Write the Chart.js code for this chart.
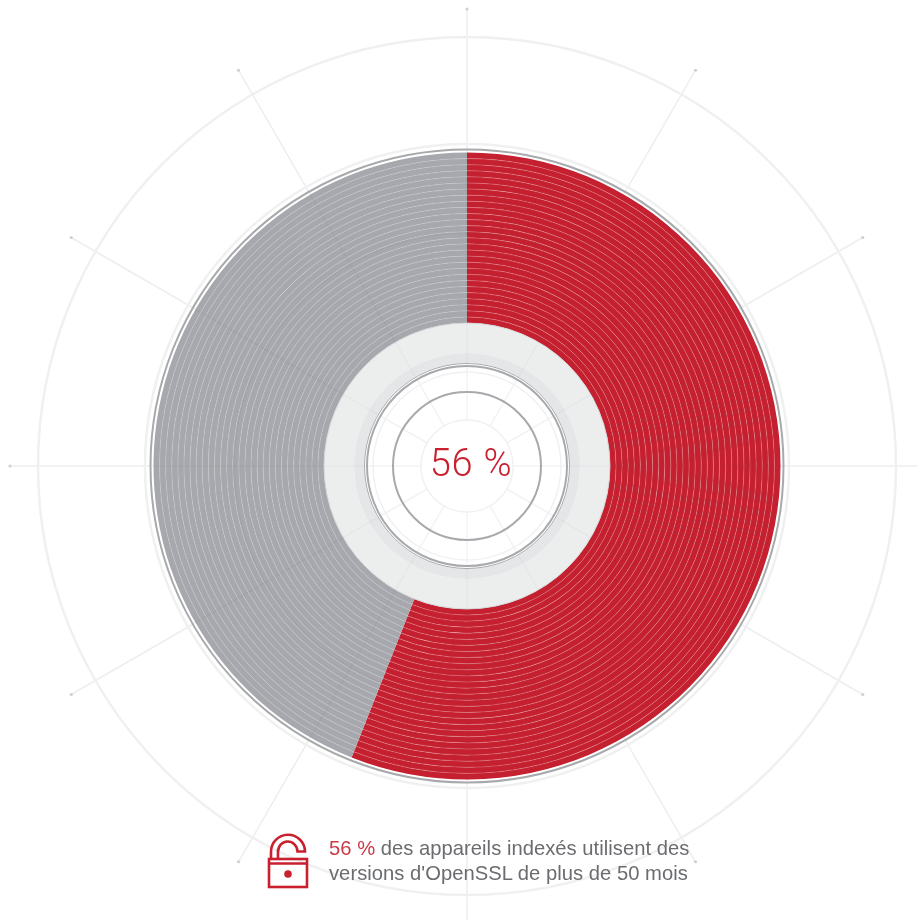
<!DOCTYPE html>
<html lang="fr">
<head>
<meta charset="utf-8">
<title>Versions d'OpenSSL</title>
<script src="https://cdn.jsdelivr.net/npm/chart.js@4/dist/chart.umd.min.js"></script>
<style>
    html, body { margin: 0; padding: 0; background: #fff; }
    #wrap { position: relative; width: 917px; height: 920px; overflow: hidden; }
    #ringChart { position: absolute; left: 0; top: 0; }
    #centerValue {
        position: absolute; left: 367px; width: 208px; top: 441px; text-align: center;
        font: 300 38px/44px Roboto, sans-serif; color: #c8202f; letter-spacing: 0.8px;
    }
    #caption {
        position: absolute; left: 329px; top: 836px; white-space: nowrap;
        font: 20.2px/25px "Liberation Sans", sans-serif; color: #6b6c6f; letter-spacing: 0.03px;
    }
    #caption b { font-weight: normal; color: #cc3a47; }
    #lock { position: absolute; left: 262px; top: 832px; }
</style>
</head>
<body>
<div id="wrap">
    <canvas id="ringChart" width="917" height="920"></canvas>
    <div id="centerValue">56 %</div>
    <div id="caption"><b>56 %</b> des appareils indexés utilisent des<br>versions d'OpenSSL de plus de 50 mois</div>
    <svg id="lock" width="52" height="60" viewBox="0 0 52 60" fill="none" stroke="#c8202f" stroke-width="2.6">
        <rect x="7" y="27" width="38" height="28"/>
        <line x1="7" y1="31.5" x2="45" y2="31.5"/>
        <path d="M9 27 V20 A17 17 0 0 1 43 19.5 L35.5 19.5 A9.5 10 0 0 0 16 20 V27"/>
        <circle cx="26" cy="42" r="3.8" fill="#c8202f" stroke="none"/>
    </svg>
</div>

<script>
const labels = ['Plus de 50 mois', 'Moins de 50 mois'];
const shares = [56, 44];
const sliceColors = ['#c5202f', '#a6a8ad'];
const lineColors = ['rgba(235,170,175,0.34)', 'rgba(205,207,210,0.38)'];

const ringCount = 28;
const gridRadii = [46, 94, 140, 233, 322, 429];
const spokeAngles = [0, 30, 60, 90, 120, 150, 180, 210, 240, 270, 300, 330];
const spokeLength = 457;

// every ring of the doughnut is its own dataset, so the separators follow its arcs
const datasets = [];
for (let i = 0; i < ringCount; i++) {
    datasets.push({ data: shares, backgroundColor: sliceColors, borderWidth: 0 });
}

function circle(ctx, x, y, r, color, width) {
    ctx.beginPath();
    ctx.arc(x, y, r, 0, Math.PI * 2);
    ctx.strokeStyle = color;
    ctx.lineWidth = width;
    ctx.stroke();
}

function drawSpokes(ctx, x, y, from, to, color) {
    spokeAngles.forEach(deg => {
        const a = deg * Math.PI / 180;
        ctx.beginPath();
        ctx.moveTo(x + Math.sin(a) * from, y - Math.cos(a) * from);
        ctx.lineTo(x + Math.sin(a) * to, y - Math.cos(a) * to);
        ctx.strokeStyle = color;
        ctx.lineWidth = 1.5;
        ctx.stroke();
    });
}

const backdrop = {
    id: 'backdrop',
    beforeDatasetsDraw(chart) {
        const ctx = chart.ctx;
        const arc = chart.getDatasetMeta(0).data[0];
        const { x, y } = arc.getProps(['x', 'y'], true);
        ctx.save();
        drawSpokes(ctx, x, y, 46, 100, '#f3f3f3');
        drawSpokes(ctx, x, y, 300, spokeLength, '#eeeeef');
        gridRadii.forEach(r => circle(ctx, x, y, r, r > 300 ? '#f0f0f1' : '#f1f1f1', r > 300 ? 2.5 : 1.5));
        // small dots at the spoke ends
        spokeAngles.forEach(deg => {
            const a = deg * Math.PI / 180;
            ctx.beginPath();
            ctx.arc(x + Math.sin(a) * spokeLength, y - Math.cos(a) * spokeLength, 1.6, 0, Math.PI * 2);
            ctx.fillStyle = '#cfd0d2';
            ctx.fill();
        });
        circle(ctx, x, y, 316.5, '#a7a9ac', 2);
        ctx.restore();
    },
    afterDatasetsDraw(chart) {
        const ctx = chart.ctx;
        ctx.save();
        // thin lines between the rings
        chart.data.datasets.forEach((ds, i) => {
            if (i === 0) return;
            chart.getDatasetMeta(i).data.forEach((arc, j) => {
                const p = arc.getProps(['x', 'y', 'startAngle', 'endAngle', 'outerRadius'], true);
                ctx.beginPath();
                ctx.arc(p.x, p.y, p.outerRadius, p.startAngle, p.endAngle);
                ctx.strokeStyle = lineColors[j];
                ctx.lineWidth = 1;
                ctx.stroke();
            });
        });
        const { x, y, innerRadius } = chart.getDatasetMeta(ringCount - 1).data[0].getProps(['x', 'y', 'innerRadius'], true);
        // spokes and circles showing faintly through the slices
        const chartOuter = chart.getDatasetMeta(0).data[0].getProps(['outerRadius'], true).outerRadius;
        drawSpokes(ctx, x, y, innerRadius, chartOuter, 'rgba(80,80,90,0.05)');
        circle(ctx, x, y, 233, 'rgba(80,80,90,0.06)', 1.5);
        // hub: pale band, darker band, then the white centre with its grey rings
        ctx.beginPath();
        ctx.arc(x, y, innerRadius, 0, Math.PI * 2);
        ctx.arc(x, y, 113, 0, Math.PI * 2, true);
        ctx.fillStyle = '#eceeee';
        ctx.fill();
        circle(ctx, x, y, innerRadius, '#d3d5d6', 1);
        ctx.beginPath();
        ctx.arc(x, y, 113, 0, Math.PI * 2);
        ctx.arc(x, y, 103, 0, Math.PI * 2, true);
        ctx.fillStyle = '#e5e6e8';
        ctx.fill();
        drawSpokes(ctx, x, y, 103, innerRadius, 'rgba(120,120,130,0.05)');
        circle(ctx, x, y, 102.5, '#a7a9ac', 1);
        circle(ctx, x, y, 100, '#a7a9ac', 2);
        circle(ctx, x, y, 74, '#a7a9ac', 2);
        ctx.restore();
    }
};

new Chart(document.getElementById('ringChart'), {
    type: 'doughnut',
    data: { labels: labels, datasets: datasets },
    options: {
        responsive: false,
        animation: false,
        radius: 313.5,
        cutout: '45.6%',
        layout: { padding: { left: 17, top: 12 } },
        plugins: { legend: { display: false }, tooltip: { enabled: false } }
    },
    plugins: [backdrop]
});
</script>
</body>
</html>
